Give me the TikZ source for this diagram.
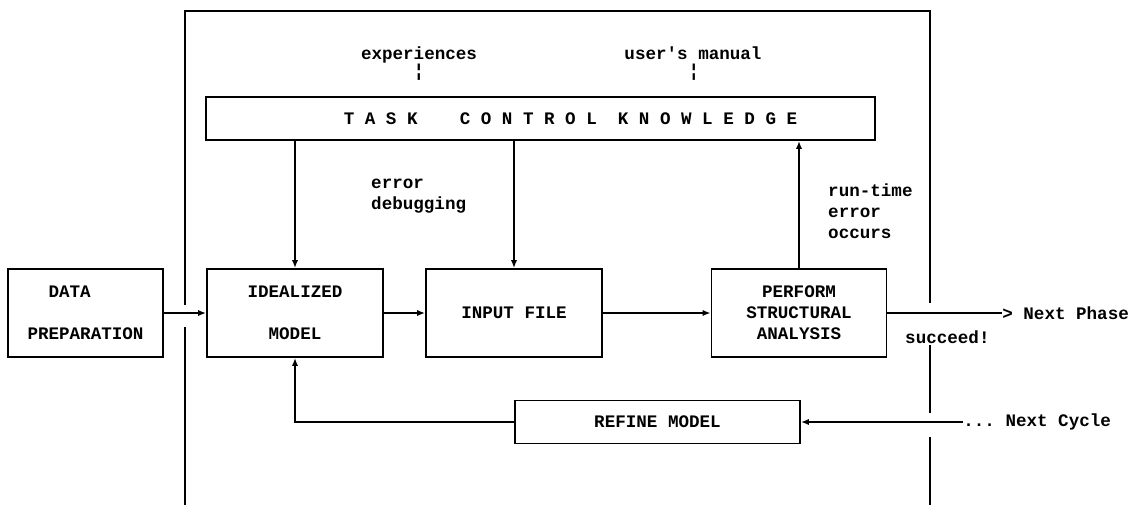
\documentclass[tikz,border=0pt]{standalone}
\usepackage{fontspec}
\setmonofont{Liberation Mono}
\usetikzlibrary{arrows.meta}

\begin{document}
\begin{tikzpicture}[
  x=0.02cm,
  y=-0.02cm,
  font=\ttfamily\bfseries\fontsize{10}{12}\selectfont,
  mybox/.style={
    draw,
    line width=1pt,
    inner sep=0pt,
    align=center
  },
  myline/.style={
    line width=1pt
  },
  myarrow/.style={
    line width=1pt,
    -{Latex[length=4.5pt,width=3.5pt]}
  }
]
\useasboundingbox (0,0) rectangle (1140,505);
\draw[myline] (185,505) -- (185,327);
\draw[myline] (185,305) -- (185,11) -- (930,11) -- (930,303);
\draw[myline] (930,345) -- (930,413);
\draw[myline] (930,437) -- (930,505);
\node[mybox, minimum width=3.1cm, minimum height=1.76cm, align=left] (data) at (85.5,313) {\hspace*{1.2em}DATA\\[12pt]PREPARATION};
\node[mybox, minimum width=3.52cm, minimum height=1.76cm] (idealized) at (295,313) {IDEALIZED\\[12pt]MODEL};
\node[mybox, minimum width=3.52cm, minimum height=1.76cm] (input) at (514,313) {INPUT FILE};
\node[mybox, minimum width=3.5cm, minimum height=1.76cm] (perform) at (799,313) {PERFORM\\STRUCTURAL\\ANALYSIS};
\node[mybox, minimum width=5.7cm, minimum height=0.86cm] (refine) at (657.5,422) {REFINE MODEL};
\node[mybox, minimum width=13.38cm, minimum height=0.86cm] (tck) at (540.5,118.5) {\hspace*{1.2cm}T~A~S~K~~~~C~O~N~T~R~O~L~~K~N~O~W~L~E~D~G~E};
\node (exp) at (419,55) {experiences};
\node (expmark) at (419,72) {¦};
\node (manual) at (693,53) {user's manual};
\node (manmark) at (694,72) {¦};
\node[anchor=west, align=left] (debug) at (365,196) {error\\debugging};
\node[anchor=west, align=left] (runtime) at (822,211) {run-time\\error\\occurs};
\node[anchor=west] (succeed) at (899,337) {succeed!};
\node[anchor=west, inner sep=0pt] (nextphase) at (1002,313) {> Next Phase};
\node[anchor=west, inner sep=0pt] (nextcycle) at (963,422) {... Next Cycle};
\draw[myarrow] (data) -- (idealized);
\draw[myarrow] (idealized) -- (input);
\draw[myarrow] (input) -- (perform);
\draw[myline] (perform.east) -- (nextphase.west);
\draw[myarrow] (nextcycle.west) -- (refine.east);
\draw[myarrow] (refine.west) -| (idealized.south);
\draw[myarrow] (tck.south -| idealized) -- (idealized.north);
\draw[myarrow] (tck.south -| input) -- (input.north);
\draw[myarrow] (perform.north) -- (perform.north |- tck.south);
\end{tikzpicture}
\end{document}
